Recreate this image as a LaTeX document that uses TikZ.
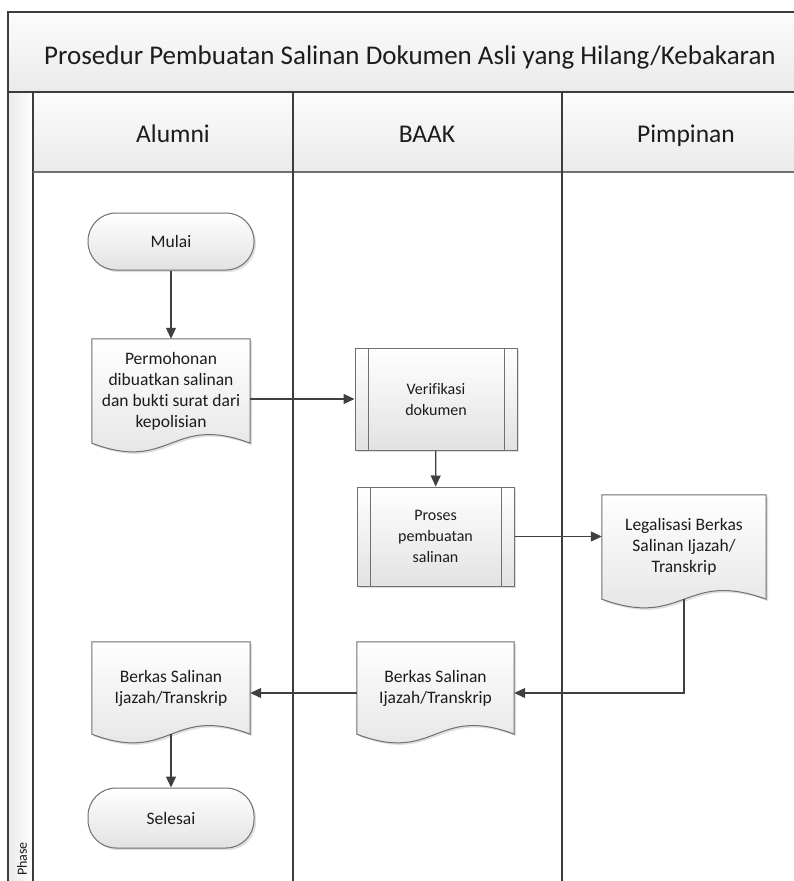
\documentclass[tikz,border=0pt]{standalone}
\usepackage{fontspec}
\setmainfont{Carlito}[Ligatures=NoCommon]
\usetikzlibrary{arrows.meta,positioning,calc,shadows}
\definecolor{Ink}{HTML}{1C1C1C}
\definecolor{Edge}{HTML}{707070}
\definecolor{Wire}{HTML}{404040}
\definecolor{Frame}{HTML}{3C3C3C}
\definecolor{BandTop}{HTML}{FCFCFC}
\definecolor{BandBot}{HTML}{EAEAEA}
\definecolor{BoxBot}{HTML}{E2E2E2}
\pgfdeclarelayer{grid}
\pgfdeclarelayer{back}
\pgfsetlayers{grid,back,main}
\newcommand\nodefont{\fontsize{17.5}{21}\selectfont}
\newcommand\subfont{\fontsize{16}{21}\selectfont}
\newcommand\docshape[1]{%
  \begin{pgfonlayer}{back}
  \path[docline] (#1.north west) -- (#1.north east) -- (#1.south east)
    .. controls ($(#1.south)+(0pt,30pt)$) and ($(#1.south)+(0pt,-30pt)$) .. (#1.south west) -- cycle;
  \end{pgfonlayer}}

\begin{document}
\begin{tikzpicture}[x=1pt,y=-1pt,>={Triangle[length=11pt,width=10pt]}]
\tikzset{lane/.style={draw=Frame,line width=1.2pt}, band/.style={top color=BandTop,bottom color=BandBot},
 termbox/.style={rounded corners=28pt,minimum width=166pt,minimum height=57pt,draw=Edge,line width=1pt,top color=white,bottom color=BoxBot,drop shadow={opacity=.25,shadow xshift=2pt,shadow yshift=-2pt},text=Ink,font=\nodefont},
 subbox/.style={minimum width=160pt,minimum height=100pt,align=center,draw=Edge,line width=1pt,top color=white,bottom color=BoxBot,drop shadow={opacity=.25,shadow xshift=2pt,shadow yshift=-2pt},text=Ink,font=\subfont,
  path picture={\draw[Edge,line width=1pt] ([xshift=13pt]path picture bounding box.north west) -- ([xshift=13pt]path picture bounding box.south west) ([xshift=-13pt]path picture bounding box.north east) -- ([xshift=-13pt]path picture bounding box.south east);}},
 doctext/.style={minimum width=158pt,minimum height=104pt,align=center,text=Ink,font=\nodefont,inner sep=2pt},
 docline/.style={draw=Edge,line width=1pt,top color=white,bottom color=BoxBot,drop shadow={opacity=.25,shadow xshift=2pt,shadow yshift=-2pt}},
 lanehead/.style={anchor=base,font=\fontsize{25.5}{28}\selectfont,text=Ink}, arrow/.style={->,Wire,line width=1.2pt}}
\clip (0,0) rectangle (793,881);
\begin{pgfonlayer}{grid}
\fill[white] (0,0) rectangle (793,881);
\shade[band] (8,12) rectangle (812,92);
\shade[band] (33,92) rectangle (812,172);
\shade[left color=BandBot,right color=white] (8,92) rectangle (33,900);
\draw[lane] (8,900) -- (8,12) -- (812,12) -- (812,900);
\draw[lane] (8,92) -- (812,92);
\draw[lane] (33,92) -- (33,900);
\draw[draw=Edge,line width=2pt] (33,172) -- (812,172);
\draw[lane] (293,92) -- (293,900);
\draw[lane] (562,92) -- (562,900);
\end{pgfonlayer}
\node[font=\fontsize{27}{30}\selectfont,text=Ink] (title) at (410,57) {Prosedur Pembuatan Salinan Dokumen Asli yang Hilang/Kebakaran};
\node[lanehead] (alumni) at (173,142) {Alumni};
\node[lanehead] (baak) at (427,142) {BAAK};
\node[lanehead] (pimpinan) at (686,142) {Pimpinan};
\node[rotate=90,anchor=west,inner sep=0pt,font=\fontsize{14}{16}\selectfont,text=Ink] (phase) at (22,876) {Phase};
\node[termbox] (mulai) at (171,241.5) {Mulai};
\node[doctext] (perm) at (171,391) {Permohonan\\dibuatkan salinan\\dan bukti surat dari\\kepolisian};
\docshape{perm}
\node[subbox,minimum width=162pt,minimum height=102pt] (verif) at (436,399) {Verifikasi\\dokumen};
\node[subbox,minimum width=157pt,minimum height=99pt] (proses) at (435.5,536.5) {Proses\\pembuatan\\salinan};
\node[doctext,minimum width=164pt] (legal) at (684,547) {Legalisasi Berkas\\Salinan Ijazah/\\Transkrip};
\docshape{legal}
\node[doctext,minimum width=157pt,minimum height=92pt] (berkasb) at (435.5,688) {Berkas Salinan\\Ijazah/Transkrip};
\docshape{berkasb}
\node[doctext,minimum height=92pt] (berkasa) at (171,688) {Berkas Salinan\\Ijazah/Transkrip};
\docshape{berkasa}
\node[termbox,minimum height=60pt] (selesai) at (171,818) {Selesai};
\draw[arrow] (mulai) -- (perm);
\draw[arrow] (verif.west -| perm.east) -- (verif.west);
\draw[arrow] (verif) -- (proses);
\draw[arrow] (proses.east) -- (proses.east -| legal.west);
\draw[arrow] (legal.south) |- ([yshift=-5pt]berkasb.east);
\draw[arrow] ([yshift=-5pt]berkasb.west) -- ([yshift=-5pt]berkasa.east);
\draw[arrow] (berkasa.south) -- (selesai);
\end{tikzpicture}
\end{document}
